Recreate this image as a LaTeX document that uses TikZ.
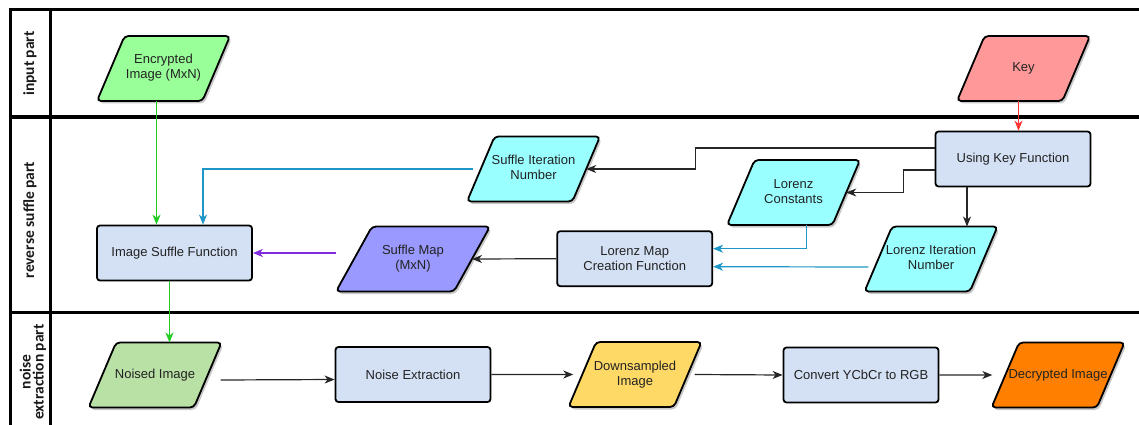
\documentclass[tikz,border=0pt]{standalone}
\usepackage{fontspec}
\setmainfont{Liberation Sans}
\newfontfamily\lanefont{Carlito}
\usetikzlibrary{shapes.geometric,arrows.meta,shadows,calc}
\definecolor{encg}{HTML}{99FF99}
\definecolor{keyr}{HTML}{FF9999}
\definecolor{cyanf}{HTML}{99FFFF}
\definecolor{smf}{HTML}{9999FF}
\definecolor{noisedf}{HTML}{B9E0A5}
\definecolor{dsf}{HTML}{FFD966}
\definecolor{decf}{HTML}{FF8000}
\definecolor{boxfill}{HTML}{D4E1F5}
\definecolor{gline}{HTML}{22CC22}
\definecolor{rline}{HTML}{FF3333}
\definecolor{bline}{HTML}{1E96C8}
\definecolor{pline}{HTML}{7F2BDD}
\definecolor{txt}{HTML}{222222}
\newcommand\ptx[1]{\makebox[0pt]{\rule[-29.5pt]{0pt}{65pt}\begin{tabular}{@{}c@{}}#1\end{tabular}}}
\tikzset{
  para/.style={trapezium, trapezium stretches body=true, trapezium left angle=67,
    trapezium right angle=113, minimum width=133pt,
    inner sep=0pt, outer sep=0pt, draw=black, line width=1.8pt, rounded corners=4pt,
    drop shadow={shadow xshift=2pt, shadow yshift=-2.5pt, opacity=0.3, fill=black!70},
    text=txt},
  boxst/.style={rectangle, draw=black, line width=1.8pt, rounded corners=3pt,
    fill=boxfill, minimum width=155pt, minimum height=55pt, inner sep=0pt,
    text=txt, align=center},
  conn/.style={line width=1.2pt, -{Stealth[length=10pt,width=8pt,inset=3pt]}},
  karr/.style={conn, draw=black!85},
  garr/.style={conn, draw=gline},
  rarr/.style={conn, draw=rline},
  barr/.style={conn, draw=bline},
  parr/.style={conn, draw=pline},
  lane/.style={line width=3pt, draw=black},
  lanelabel/.style={rotate=90, font=\lanefont\bfseries\fontsize{15.5}{13}\selectfont, text=black!90, align=center}
}
\begin{document}
\begin{tikzpicture}[x=1pt,y=-1pt,font=\fontsize{13}{15}\selectfont]
\useasboundingbox (0,0) rectangle (1139,425);
% swimlanes
\draw[lane] (1145,10) -- (10,10) -- (10,432);
\draw[lane] (50,10) -- (50,432);
\draw[lane] (10,117) -- (1145,117);
\draw[lane] (10,312.5) -- (1145,312.5);
\node[lanelabel] (l1) at (30,63.5) {input part};
\node[lanelabel] (l2) at (30,220) {reverse suffle part};
\node[lanelabel] (l3) at (33,372) {noise\\extraction part};
% nodes
\node[para, fill=encg] (enc) at (163.5,68.5) {\ptx{Encrypted\\Image (MxN)}};
\node[para, fill=keyr] (key) at (1023.5,68.5) {\ptx{Key}};
\node[boxst] (ukf) at (1013,159) {Using Key Function};
\node[para, fill=cyanf] (sin) at (533.5,169) {\ptx{Suffle Iteration\\Number}};
\node[para, fill=cyanf] (lc) at (793.5,192.5) {\ptx{Lorenz\\Constants}};
\node[para, fill=cyanf] (lin) at (931,259) {\ptx{Lorenz Iteration\\Number}};
\node[boxst] (lmcf) at (634.7,258.7) {Lorenz Map\\Creation Function};
\node[para, fill=smf, minimum width=154pt, trapezium left angle=61, trapezium right angle=119] (sm) at (413,259) {\ptx{Suffle Map\\(MxN)}};
\node[boxst] (isf) at (174.5,253) {Image Suffle Function};
\node[para, fill=noisedf] (ni) at (155,375) {\ptx{Noised Image}};
\node[boxst] (ne) at (413,374.5) {Noise Extraction};
\node[para, fill=dsf] (ds) at (635,374.5) {\ptx{Downsampled\\Image}};
\node[boxst] (cv) at (861,375) {Convert YCbCr to RGB};
\node[para, fill=decf] (dec) at (1058,375) {\ptx{Decrypted Image}};
% connectors
\draw[garr] ([xshift=-7pt]enc.south) -- ([xshift=-7pt]enc.south |- isf.north);
\draw[rarr] ([xshift=-5pt]key.south) -- ([xshift=-5pt]key.south |- ukf.north);
\draw[karr] ([yshift=11pt]ukf.west) -- ++(-239,0) |- (sin.east);
\draw[karr] ([yshift=-11pt]ukf.west) -- ++(-31,0) |- (lc.east);
\draw[karr] ([xshift=-46pt]ukf.south) -- ([xshift=-46pt]ukf.south |- lin.north);
\draw[barr] ([xshift=13pt]lc.south) |- ([yshift=10pt]lmcf.east);
\draw[barr] ([xshift=-10pt,yshift=-8pt]lin.west) -- ([yshift=-8pt]lmcf.east);
\draw[karr] (lmcf.west) -- (sm.east);
\draw[parr] ([xshift=-18pt]sm.west |- isf.east) -- (isf.east);
\draw[barr] ([xshift=-8pt]sin.west) -| ([xshift=28.5pt]isf.north);
\draw[garr] ([xshift=-5pt]isf.south) -- ([xshift=-5pt]isf.south |- ni.north);
\draw[karr] ([xshift=13pt,yshift=-5pt]ni.east) -- ([yshift=-5pt]ne.west);
\draw[karr] (ne.east) -- ([xshift=-9pt]ds.west);
\draw[karr] ([xshift=7pt]ds.east) -- (cv.west);
\draw[karr] (cv.east) -- ([xshift=-13pt]dec.west);
\end{tikzpicture}
\end{document}
